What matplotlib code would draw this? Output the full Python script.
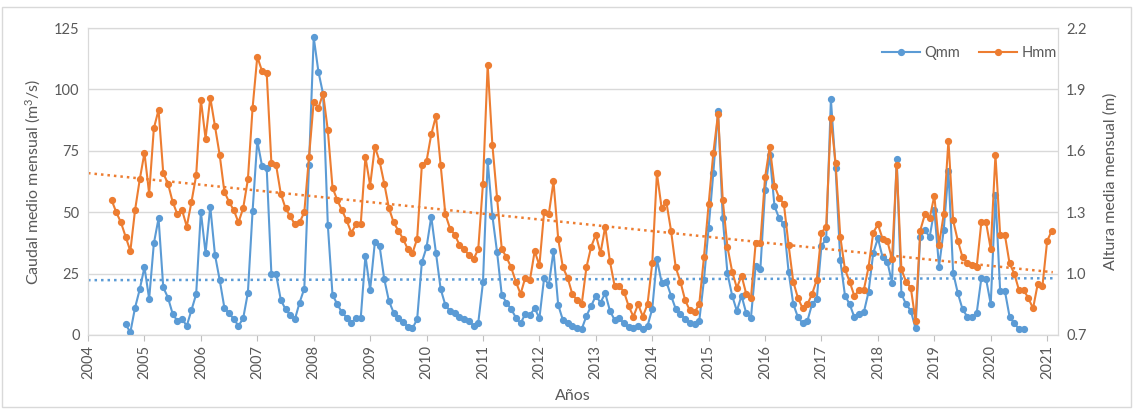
import numpy as np
import matplotlib
matplotlib.use("Agg")
import matplotlib.pyplot as plt
from matplotlib.patches import Rectangle

plt.rcParams['font.family'] = ['Lato', 'DejaVu Sans']
plt.rcParams['mathtext.fontset'] = 'custom'
plt.rcParams['mathtext.rm'] = 'Lato'
plt.rcParams['mathtext.default'] = 'rm'

# caudal medio mensual Qmm (m3/s), sep 2004 - ago 2020
qmm = [4.3, 1.1, 11.1, 18.6,
       27.6, 14.7, 37.3, 47.5, 19.4, 15.2, 8.6, 5.7, 6.5, 3.7, 10.2, 16.6,
       50.2, 33.3, 52.3, 32.6, 22.4, 11.1, 8.8, 6.5, 3.7, 6.8, 17.2, 50.5,
       79.1, 68.9, 67.9, 24.8, 24.7, 14.3, 10.5, 8.1, 6.4, 13.2, 18.9, 69.2,
       121.2, 107.2, 98.1, 44.8, 16.3, 12.6, 9.2, 7.1, 5.0, 6.8, 6.8, 32.2,
       18.3, 37.7, 36.4, 22.8, 13.8, 9.1, 7.1, 5.2, 3.4, 2.7, 6.4, 29.6,
       35.7, 48.2, 33.5, 18.7, 12.2, 9.8, 8.8, 7.5, 6.4, 5.7, 3.8, 5.0,
       21.4, 71.0, 48.5, 33.7, 16.3, 13.2, 10.5, 7.1, 4.7, 8.6, 8.1, 10.9,
       6.8, 23.1, 20.4, 34.2, 12.2, 6.1, 5.0, 3.7, 2.7, 2.4, 7.7, 11.8,
       15.9, 13.2, 17.0, 9.9, 6.1, 6.8, 4.7, 3.1, 2.7, 3.8, 2.4, 3.7,
       10.6, 30.9, 21.3, 21.7, 16.0, 10.6, 8.4, 6.5, 4.7, 4.3, 5.7, 22.4,
       43.7, 66.1, 91.2, 47.5, 25.1, 16.0, 9.8, 16.0, 8.8, 7.1, 28.2, 26.7,
       59.0, 73.3, 52.5, 47.5, 45.1, 25.8, 12.6, 7.2, 4.7, 5.7, 12.6, 14.7,
       36.4, 39.0, 96.0, 68.0, 30.4, 16.0, 12.5, 7.2, 8.6, 9.2, 17.4, 33.3,
       39.4, 31.6, 29.9, 21.3, 71.7, 16.7, 12.5, 9.9, 2.7, 39.8, 42.8, 39.8,
       50.9, 27.8, 42.8, 66.9, 25.4, 17.0, 10.5, 7.5, 7.2, 8.8, 23.1, 22.8,
       12.6, 57.0, 17.9, 18.0, 7.5, 4.7, 2.4, 2.4]

# altura media mensual Hmm (m), jun 2004 - feb 2021
hmm = [1.36, 1.30, 1.25, 1.18, 1.11, 1.31, 1.46,
       1.59, 1.39, 1.71, 1.80, 1.49, 1.44, 1.35, 1.29, 1.31, 1.23, 1.35, 1.48,
       1.85, 1.66, 1.86, 1.72, 1.58, 1.40, 1.35, 1.31, 1.25, 1.32, 1.46, 1.81,
       2.06, 1.99, 1.98, 1.54, 1.53, 1.39, 1.32, 1.28, 1.24, 1.25, 1.30, 1.57,
       1.84, 1.81, 1.88, 1.70, 1.42, 1.36, 1.31, 1.26, 1.20, 1.24, 1.24, 1.57,
       1.43, 1.62, 1.55, 1.44, 1.32, 1.25, 1.21, 1.17, 1.12, 1.10, 1.17, 1.53,
       1.55, 1.68, 1.77, 1.53, 1.29, 1.22, 1.19, 1.14, 1.12, 1.09, 1.07, 1.12,
       1.44, 2.02, 1.63, 1.37, 1.12, 1.08, 1.03, 0.96, 0.90, 0.98, 0.97, 1.11,
       1.04, 1.30, 1.29, 1.45, 1.17, 1.03, 0.98, 0.90, 0.87, 0.85, 1.03, 1.13,
       1.19, 1.10, 1.23, 1.06, 0.94, 0.94, 0.91, 0.84, 0.79, 0.85, 0.79, 0.85,
       1.05, 1.49, 1.32, 1.35, 1.21, 1.03, 0.96, 0.87, 0.82, 0.81, 0.85, 1.08,
       1.34, 1.59, 1.78, 1.36, 1.13, 1.01, 0.93, 0.99, 0.90, 0.88, 1.15, 1.15,
       1.47, 1.62, 1.43, 1.37, 1.34, 1.14, 0.96, 0.88, 0.83, 0.85, 0.90, 0.97,
       1.20, 1.23, 1.76, 1.54, 1.18, 1.02, 0.96, 0.89, 0.92, 0.92, 1.03, 1.20,
       1.24, 1.17, 1.16, 1.07, 1.53, 1.02, 0.96, 0.93, 0.77, 1.21, 1.29, 1.27,
       1.38, 1.14, 1.29, 1.65, 1.26, 1.16, 1.08, 1.05, 1.04, 1.03, 1.25, 1.25,
       1.12, 1.58, 1.19, 1.19, 1.05, 1.00, 0.92, 0.92, 0.88, 0.83, 0.95, 0.94,
       1.16, 1.21]

years = list(range(2004, 2022))

# fechas como año decimal (primer dia de cada mes)
t_q = 2004 + 8 / 12 + np.arange(len(qmm)) / 12
t_h = 2004 + 5 / 12 + np.arange(len(hmm)) / 12

azul = '#5B9BD5'
naranja = '#ED7D31'
gris = '#595959'

fig = plt.figure(figsize=(11.33, 4.09), dpi=100)
ax = fig.add_axes([0.0777, 0.181, 0.856, 0.7505])
ax2 = ax.twinx()

ax.plot(t_q, qmm, color=azul, lw=1.5, marker='o', ms=4.2, label='Qmm', zorder=3)
ax2.plot(t_h, hmm, color=naranja, lw=1.5, marker='o', ms=4.2, label='Hmm', zorder=3)

# lineas de tendencia lineal
xt = np.array([2004.0, 2021.1])
pq = np.polyfit(t_q, qmm, 1)
ph = np.polyfit(t_h, hmm, 1)
ax.plot(xt, np.polyval(pq, xt), color=azul, lw=1.8, ls=(0, (1, 1.6)), zorder=2)
ax2.plot(xt, np.polyval(ph, xt), color=naranja, lw=1.8, ls=(0, (1, 1.6)), zorder=2)

ax.set_xlim(2004, 2021.19)
ax.set_ylim(0, 125)
ax2.set_ylim(0.7, 2.2)
ax.set_yticks(range(0, 126, 25))
ax2.set_yticks([0.7, 1.0, 1.3, 1.6, 1.9, 2.2])
ax2.set_yticklabels(['0.7', '1.0', '1.3', '1.6', '1.9', '2.2'])
ax.set_xticks(years)
ax.set_xticklabels([str(y) for y in years], rotation=90)

ax.grid(axis='y', color='#D9D9D9', lw=1)
ax.set_axisbelow(True)
for a in (ax, ax2):
    for s in a.spines.values():
        s.set_color('#D9D9D9')
    a.tick_params(axis='y', length=0, colors=gris, labelsize=10.5, pad=6)
ax.spines['bottom'].set_color('#BFBFBF')
ax.tick_params(axis='x', length=4, color='#BFBFBF', colors=gris, labelsize=10.5, pad=3)

ax.set_ylabel(r'Caudal medio mensual (m$^{3}$/s)', color=gris, fontsize=11.5, labelpad=8)
ax2.set_ylabel('Altura media mensual (m)', color=gris, fontsize=11.5, labelpad=12)
ax.set_xlabel('Años', color=gris, fontsize=11.5, labelpad=7)

h1, l1 = ax.get_legend_handles_labels()
h2, l2 = ax2.get_legend_handles_labels()
ax2.legend(h1 + h2, l1 + l2, loc='upper right', bbox_to_anchor=(1.012, 0.985), ncol=2,
           frameon=False, fontsize=10.5, labelcolor=gris, handlelength=2.6,
           columnspacing=1.3, handletextpad=0.3)

fig.patches.append(Rectangle((0.002, 0.004), 0.996, 0.979, transform=fig.transFigure,
                             fill=False, edgecolor='#D9D9D9', lw=1))

fig.savefig('out.png', dpi=100)
